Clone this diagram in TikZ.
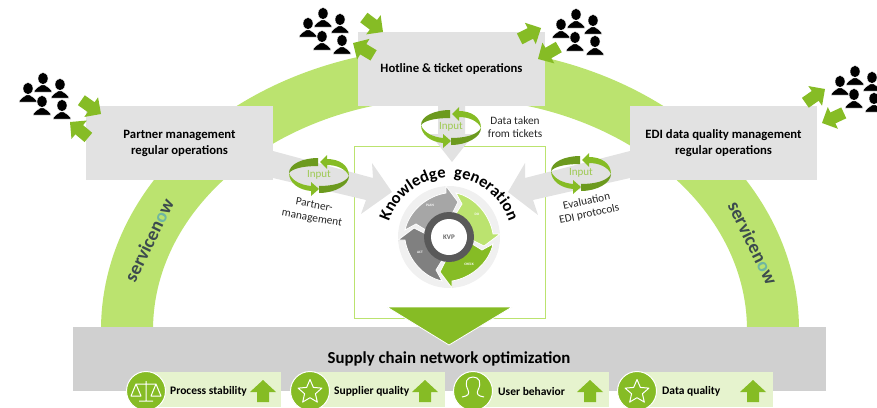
\documentclass[tikz,border=0pt]{standalone}
\usepackage{fontspec}
\setmainfont{Carlito}
\usetikzlibrary{shapes.geometric,decorations.text}

\definecolor{bandgreen}{HTML}{BBE36F}
\definecolor{maingreen}{HTML}{86BC25}
\definecolor{darkgreen}{HTML}{6C9A1E}
\definecolor{palegreen}{HTML}{E6F3CE}
\definecolor{boxgrey}{HTML}{E2E2E2}
\definecolor{basegrey}{HTML}{D0D0D0}
\definecolor{nowdark}{HTML}{3C4B4E}
\definecolor{nowteal}{HTML}{6FB7A0}

\tikzset{
  greybox/.style={fill=boxgrey,minimum width=187pt,minimum height=74pt,inner sep=0pt,align=center,
    font=\fontsize{12.7}{16}\selectfont\bfseries},
  note/.style={align=center,text=black!85,font=\fontsize{11.3}{13}\selectfont},
  inputlabel/.style={text=maingreen!80,font=\fontsize{11}{12}\selectfont},
  nowlabel/.style={text=nowdark,font=\fontsize{19}{19}\selectfont\bfseries},
  pdcalabel/.style={text=white,font=\fontsize{3.5}{4}\selectfont\bfseries},
  kpilabel/.style={anchor=west,inner sep=0pt,font=\fontsize{11.5}{12}\selectfont\bfseries},
  kpicircle/.style={circle,fill=maingreen,draw=white,line width=1pt,minimum size=39pt,inner sep=0pt},
  icon/.style={draw=white,line width=1pt,line join=round},
}

% one of the small green arrows: tip at #1, pointing along #2
\newcommand{\greenarrow}[2]{%
  \fill[maingreen,shift={(#1)},rotate=#2] (0,0) -- (-12,12) -- (-12,6) -- (-24,6) -- (-24,-6) -- (-12,-6) -- (-12,-12) -- cycle;}

% five people, #1 is the head of the top one
\newcommand{\peoplegroup}[1]{%
  \foreach \px/\py in {0/0,-15/10,17/6,-1/23,19/27} {
    \filldraw[fill=black,draw=white,line width=0.4pt,shift={(#1)},shift={(\px,\py)}] (0,-0.5) ellipse [x radius=5pt,y radius=6pt]
      (-9,13) .. controls (-8,9) and (-4,8) .. (-2,6) -- (2,6) .. controls (4,8) and (8,9) .. (9,13) -- cycle;
  }}

% the two way ring with its label
\newcommand{\inputring}[2]{%
  \begin{scope}[shift={(#1)}]
    \fill[darkgreen] (-30,-2) .. controls (-30,-11) and (-16,-17) .. (-1,-17) -- (-1,-9) .. controls (-14,-9) and (-26,-7) .. cycle;
    \fill[darkgreen] (30,1) .. controls (30,10) and (16,18) .. (0,18) -- (0,11) .. controls (14,11) and (26,8) .. cycle;
    \fill[maingreen] (1,-13) -- (8,-20) -- (8,-16) .. controls (20,-16) and (30,-10) .. (30,1) .. controls (27,-6) and (18,-10) .. (8,-10) -- (8,-6) -- cycle;
    \fill[maingreen] (-30,-2) .. controls (-30,8) and (-20,15) .. (-8,16) -- (-8,21) -- (0,14) -- (-8,7) -- (-8,11) .. controls (-18,10) and (-27,6) .. cycle;
    \node[inputlabel] (#2) at (0,0) {Input};
  \end{scope}}

\begin{document}
\begin{tikzpicture}[x=1pt,y=-1pt]
  \useasboundingbox (0,0) rectangle (877,407);
  \clip (0,0) rectangle (877,407);
  % big band
  \fill[bandgreen] (101,330) arc [start angle=180,end angle=0,x radius=349pt,y radius=283pt]
    -- (747,330) arc [start angle=0,end angle=180,x radius=297pt,y radius=232pt] -- cycle;
  \node[nowlabel,rotate=64] (nowleft) at (149,240) {servicen{\color{nowteal}o}w};
  \node[nowlabel,rotate=-64] (nowright) at (753,243) {servicen{\color{nowteal}o}w};

  \draw[bandgreen,line width=1pt] (354,146) rectangle (545,318);

  % boxes
  \node[greybox] (partner) at (179.5,143) {Partner management\\regular operations};
  \node[greybox] (hotline) at (451.5,69) {Hotline \& ticket operations};
  \node[greybox] (edi) at (723.5,143) {EDI data quality management\\regular operations};

  % grey arrows into the frame
  \fill[boxgrey] (273,151) -- (373,178) -- (372,163) -- (392,192) -- (361,214) -- (366,200) -- (273,178) -- cycle;
  \fill[boxgrey] (630,151) -- (525,178) -- (525,163) -- (508,192) -- (538,215) -- (533,200) -- (630,178) -- cycle;
  \fill[boxgrey] (438,106) -- (465,106) -- (465,134) -- (474,134) -- (452,162) -- (430,134) -- (438,134) -- cycle;

  % rings
  \inputring{319,175}{inputleft}
  \inputring{451,127}{inputtop}
  \inputring{581,173}{inputright}

  \node[note] (tickets) at (515,127) {Data taken\\from tickets};
  \node[note,rotate=-10] (partnernote) at (313,212) {Partner-\\management};
  \node[note,rotate=12] (edinote) at (588,208) {Evaluation\\EDI protocols};

  % KVP wheel
  \begin{scope}[shift={(449,237)}]
    \fill[black!6] (0,0) circle [radius=51pt];
    \foreach \ang/\col in {0/black!35,-90/bandgreen,-180/maingreen,-270/black!50} {
      \filldraw[fill=\col,draw=white,line width=0.8pt,rotate=\ang] (-44,-7) .. controls (-40,-26) and (-22,-41) .. (-3,-44)
        -- (-3,-51) -- (9,-35) -- (1,-19) -- (-20,-5) -- (-33,-13) -- cycle;
    }
    \fill[black!65] (0,0) circle [radius=25pt];
    \fill[white] (0,0) circle [radius=18pt];
    \node[text=black!60,font=\fontsize{7}{8}\selectfont\bfseries] (kvp) at (0,0) {KVP};
    \node[pdcalabel] (plan) at (-19,-32) {PLAN};
    \node[pdcalabel] (do) at (28,-23) {DO};
    \node[pdcalabel] (check) at (20,27) {CHECK};
    \node[pdcalabel] (act) at (-29,15) {ACT};
  \end{scope}
  \path[decorate,decoration={text along path,text align=center,
      text={|\fontsize{16.5}{17}\selectfont\bfseries|Knowledge{ }{ }generation}}]
    (386.6,232) arc [start angle=172,end angle=8,radius=63pt];

  % base bar
  \fill[basegrey] (73,327) rectangle (826,391);
  \filldraw[fill=maingreen,draw=white,line width=0.8pt] (387,307) -- (512,307) -- (449,345) -- cycle;
  \node[font=\fontsize{16.8}{18}\selectfont\bfseries] (optim) at (449,359) {Supply chain network optimization};

  \foreach \cx/\rx/\ax/\tx/\lab in {146/281/263/170/Process stability,310/445/425/334/Supplier quality,
      473/609/590/498/User behavior,637/773/753/662/Data quality} {
    \fill[palegreen] (\cx,372) rectangle (\rx,407);
    \fill[maingreen] (\ax,380) -- (\ax+13,392) -- (\ax+6,392) -- (\ax+6,402) -- (\ax-6,402) -- (\ax-6,392) -- (\ax-13,392) -- cycle;
    \node[kpicircle] at (\cx,391) {};
    \node[kpilabel] at (\tx,391.5) {\lab};
  }
  % icons
  \draw[icon] (146,381) -- (146,401) (139,401) -- (153,401) (136,384) -- (156,384)
    (136,384) -- (131,396) -- (141,396) -- cycle (156,384) -- (151,396) -- (161,396) -- cycle;
  \node[star,star points=5,star point ratio=2.2,minimum size=25pt,inner sep=0pt,icon] at (310,392) {};
  \node[star,star points=5,star point ratio=2.2,minimum size=25pt,inner sep=0pt,icon] at (637,392) {};
  \draw[icon] (462,397) .. controls (468,396) and (470,394) .. (468,390) .. controls (464,382) and (467,377) .. (473,377)
    .. controls (479,377) and (482,382) .. (478,390) .. controls (476,394) and (478,396) .. (484,397);

  % people with their arrows
  \peoplegroup{43,79}
  \peoplegroup{323,14}
  \peoplegroup{576,15}
  \peoplegroup{855,72}
  \greenarrow{101,114}{-35}
  \greenarrow{70,122}{140}
  \greenarrow{383,32}{-37}
  \greenarrow{353,43}{149}
  \greenarrow{541,28}{27}
  \greenarrow{538,59}{210}
  \greenarrow{825,89}{35}
  \greenarrow{822,123}{205}
\end{tikzpicture}
\end{document}
